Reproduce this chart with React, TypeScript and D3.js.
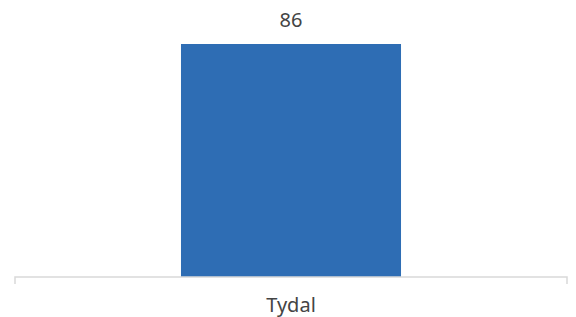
import * as d3 from 'd3';

const categories = ["Tydal"];
const values = [86];

const width = 576;
const height = 317;

const App = () => {
    const x = d3.scaleBand<string>()
        .domain(categories)
        .range([15, 567])
        .padding(0.43);

    const y = d3.scaleLinear()
        .domain([0, 86])
        .range([277, 44]);

    const font = "'Noto Sans', 'DejaVu Sans', sans-serif";

    return (
        <svg width={width} height={height} style={{position: "absolute", left: 0, top: 0}}>
            <rect width={width} height={height} fill="#ffffff" />
            {categories.map((c, i) => (
                <g key={c}>
                    <rect x={x(c)} y={y(values[i])} width={x.bandwidth()} height={y(0) - y(values[i])} fill="#2e6db4" />
                    <text x={(x(c) ?? 0) + x.bandwidth() / 2} y={y(values[i]) - 17.5} textAnchor="middle" fill="#444444" fontSize="20px" fontFamily={font}>{values[i]}</text>
                    <text x={(x(c) ?? 0) + x.bandwidth() / 2} y={312} textAnchor="middle" fill="#444444" fontSize="20px" fontFamily={font}>{c}</text>
                </g>
            ))}
            {/* axis line with end ticks */}
            <path d={`M${x.range()[0]},284V${y(0)}H${x.range()[1]}V284`} fill="none" stroke="#d9d9d9" strokeWidth={1.5} />
        </svg>
    )
}

export default App
